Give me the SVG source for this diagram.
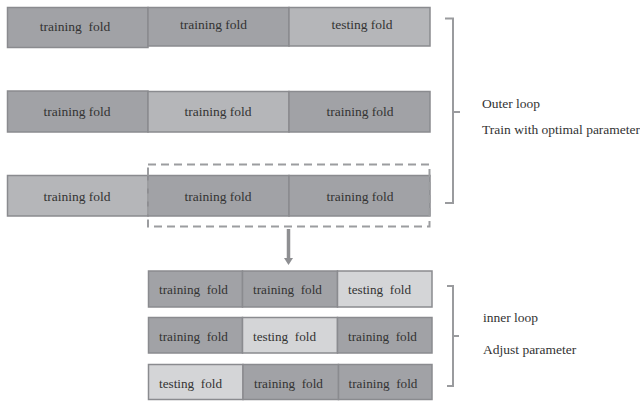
<svg xmlns="http://www.w3.org/2000/svg" width="640" height="401" viewBox="0 0 640 401">
<style>
.d{fill:#a1a2a6;stroke:#8a8b8f;stroke-width:1.5}
.l{fill:#b5b6b9;stroke:#8a8b8f;stroke-width:1.5}
.w{fill:#d4d5d7;stroke:#8a8b8f;stroke-width:1.5}
text{font-family:"Liberation Serif","Times New Roman",serif;font-size:13.5px;fill:#333;text-anchor:middle;white-space:pre}
.i{font-size:13.2px}
.r{text-anchor:start;font-size:13.5px}
.br{fill:none;stroke:#9a9b9e;stroke-width:2}
</style>
<rect width="640" height="401" fill="#fff"/>
<g id="outer-row1">
<rect class="d" x="7.5" y="7.5" width="140.5" height="40"/><text x="75" y="31" xml:space="preserve">training  fold</text>
<rect class="d" x="148" y="7.5" width="141" height="38.5"/><text x="213.5" y="29">training fold</text>
<rect class="l" x="289" y="7.5" width="141" height="38.5"/><text x="362" y="29">testing fold</text>
</g>
<g id="outer-row2">
<rect class="d" x="7.5" y="91" width="140.5" height="41"/><text x="77" y="116">training fold</text>
<rect class="l" x="148" y="91.5" width="141" height="40.5"/><text x="218" y="116">training fold</text>
<rect class="d" x="289" y="91.5" width="141" height="40.5"/><text x="360" y="116">training fold</text>
</g>
<g id="outer-row3">
<rect class="l" x="7.5" y="175.5" width="140.5" height="40.5"/><text x="77" y="201">training fold</text>
<rect class="d" x="148" y="175.5" width="141" height="40.5"/><text x="218" y="201">training fold</text>
<rect class="d" x="289" y="175.5" width="141" height="40.5"/><text x="360" y="201">training fold</text>
</g>
<g id="inner-row1">
<rect class="d" x="148.5" y="271" width="94" height="36"/><text class="i" x="193.5" y="293.5" xml:space="preserve">training  fold</text>
<rect class="d" x="242.5" y="271" width="95" height="36"/><text class="i" x="287.5" y="293.5" xml:space="preserve">training  fold</text>
<rect class="w" x="337.5" y="271" width="94.5" height="36"/><text class="i" x="379.5" y="293.5" xml:space="preserve">testing  fold</text>
</g>
<g id="inner-row2">
<rect class="d" x="148.5" y="317.5" width="94" height="35.5"/><text class="i" x="193.5" y="340.5" xml:space="preserve">training  fold</text>
<rect class="w" x="242.5" y="317.5" width="95" height="35.5"/><text class="i" x="284.5" y="340.5" xml:space="preserve">testing  fold</text>
<rect class="d" x="337.5" y="317.5" width="94.5" height="35.5"/><text class="i" x="382.5" y="340.5" xml:space="preserve">training  fold</text>
</g>
<g id="inner-row3">
<rect class="w" x="148.5" y="364.5" width="94.5" height="35"/><text class="i" x="190.5" y="387.5" xml:space="preserve">testing  fold</text>
<rect class="d" x="243" y="364.5" width="95.5" height="35"/><text class="i" x="288.5" y="387.5" xml:space="preserve">training  fold</text>
<rect class="d" x="338.5" y="364.5" width="93.5" height="35"/><text class="i" x="383" y="387.5" xml:space="preserve">training  fold</text>
</g>
<g id="connectors">
<rect x="148" y="164.5" width="281.5" height="62" fill="none" stroke="#9c9da0" stroke-width="2" stroke-dasharray="8,5"/>
<line x1="288.5" y1="229" x2="288.5" y2="259" stroke="#8e8f92" stroke-width="3.5"/>
<polygon points="284,258 293,258 288.5,265" fill="#8e8f92"/>
<path class="br" d="M445,18.5 H453 V203 H445 M453,112 H460"/>
<path class="br" d="M447,286 H453 V386 H447 M453,336 H459"/>
</g>
<g id="labels">
<text class="r" x="482" y="108">Outer loop</text>
<text class="r" x="482" y="134">Train with optimal parameter</text>
<text class="r" x="483" y="322">inner loop</text>
<text class="r" x="483" y="354">Adjust parameter</text>
</g>
</svg>
